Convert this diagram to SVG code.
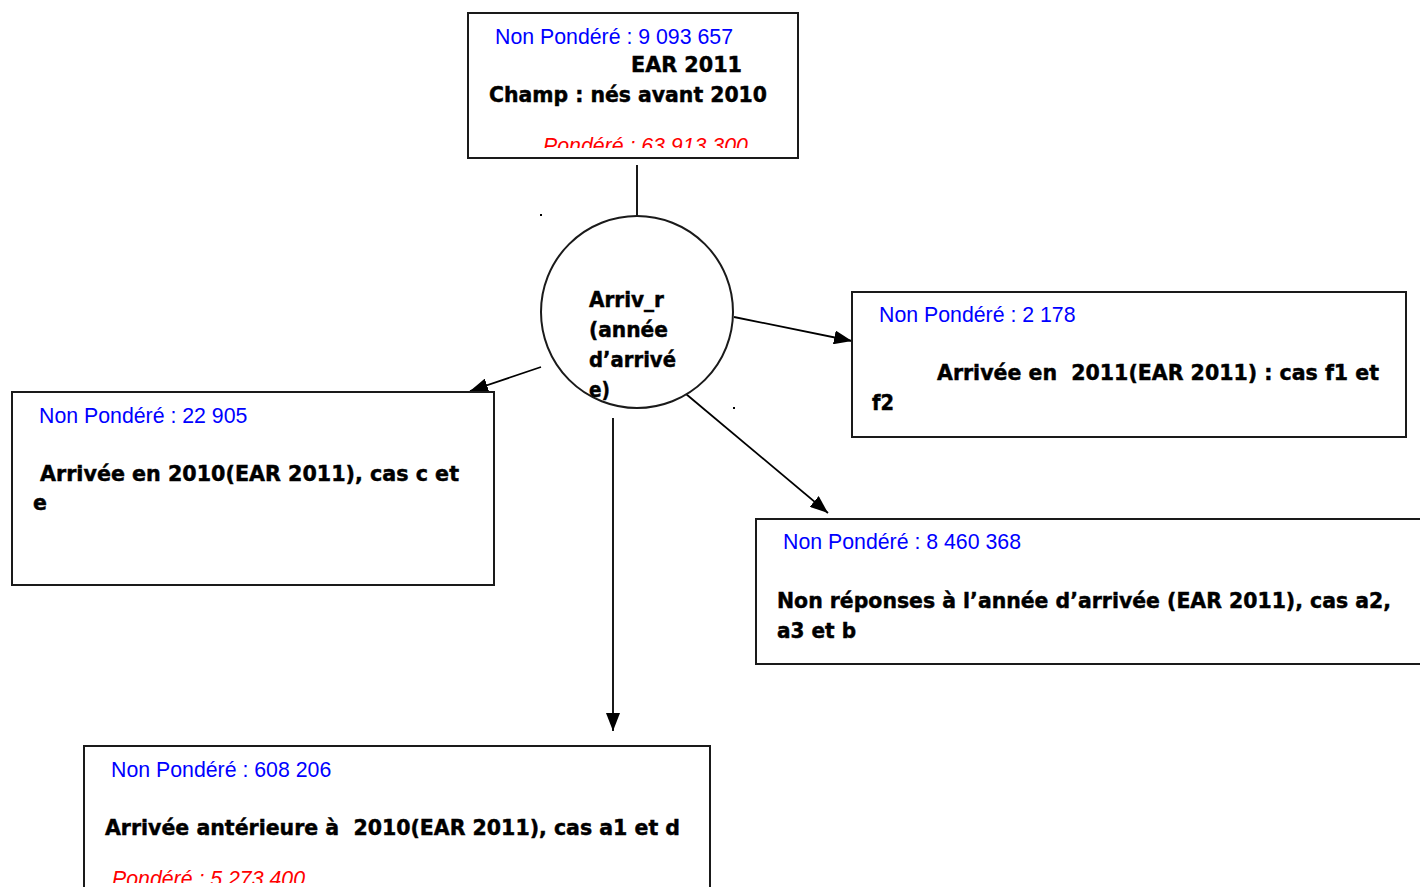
<svg xmlns="http://www.w3.org/2000/svg" width="1420" height="887" viewBox="0 0 1420 887" xml:space="preserve">
  <style>
    .box { fill: #ffffff; stroke: #1a1a1a; stroke-width: 2; }
    .edge { fill: none; stroke: #000000; stroke-width: 1.8; }
    .count { font-family: "Liberation Sans", Arial, sans-serif; font-size: 21.3px; fill: #0000ff; }
    .weighted { font-family: "Liberation Sans", Arial, sans-serif; font-size: 21.3px; font-style: italic; fill: #ff0000; }
    .label { font-family: "DejaVu Sans", "Liberation Sans", sans-serif; font-size: 20.5px; font-weight: bold; fill: #000000; stroke: #000000; stroke-width: 0.45; white-space: pre; }
  </style>
  <defs>
    <marker id="arrow" viewBox="0 0 18 14" refX="18" refY="7" markerWidth="18" markerHeight="14" markerUnits="userSpaceOnUse" orient="auto">
      <path d="M0,0 L18,7 L0,14 Z" fill="#000000"/>
    </marker>
    <clipPath id="clipTop"><rect x="468" y="13" width="330" height="135"/></clipPath>
    <clipPath id="clipBottom"><rect x="84" y="746" width="626" height="137"/></clipPath>
  </defs>

  <rect width="1420" height="887" fill="#ffffff"/>

  <!-- connectors -->
  <g id="connectors">
    <line class="edge" x1="637" y1="165" x2="637" y2="216"/>
    <line class="edge" x1="541" y1="367" x2="470" y2="391" marker-end="url(#arrow)"/>
    <line class="edge" x1="734" y1="317" x2="852" y2="341" marker-end="url(#arrow)"/>
    <line class="edge" x1="686" y1="394" x2="828" y2="513" marker-end="url(#arrow)"/>
    <line class="edge" x1="613" y1="418" x2="613" y2="731" marker-end="url(#arrow)"/>
    <rect x="540" y="214" width="2" height="2" fill="#000000"/>
    <rect x="733" y="407" width="2" height="2" fill="#000000"/>
  </g>

  <!-- root: survey field -->
  <g id="node-root">
    <rect class="box" x="468" y="13" width="330" height="145"/>
    <text class="count" x="495" y="44">Non Pondéré : 9 093 657</text>
    <text class="label" x="631" y="72" textLength="111" lengthAdjust="spacingAndGlyphs">EAR 2011</text>
    <text class="label" x="489" y="102" textLength="278" lengthAdjust="spacingAndGlyphs">Champ : nés avant 2010</text>
    <text class="weighted" x="543" y="153" clip-path="url(#clipTop)">Pondéré : 63 913 300</text>
  </g>

  <!-- split variable -->
  <g id="node-arriv">
    <circle class="box" cx="637" cy="312" r="96"/>
    <text class="label" x="589" y="307" textLength="75" lengthAdjust="spacingAndGlyphs">Arriv_r</text>
    <text class="label" x="589" y="337" textLength="79" lengthAdjust="spacingAndGlyphs">(année</text>
    <text class="label" x="589" y="367" textLength="87" lengthAdjust="spacingAndGlyphs">d’arrivé</text>
    <text class="label" x="589" y="397" textLength="21" lengthAdjust="spacingAndGlyphs">e)</text>
  </g>

  <!-- arrived in 2010 -->
  <g id="node-2010">
    <rect class="box" x="12" y="392" width="482" height="193"/>
    <text class="count" x="39" y="423">Non Pondéré : 22 905</text>
    <text class="label" x="40" y="481" textLength="419" lengthAdjust="spacingAndGlyphs">Arrivée en 2010(EAR 2011), cas c et</text>
    <text class="label" x="33" y="510">e</text>
  </g>

  <!-- arrived in 2011 -->
  <g id="node-2011">
    <rect class="box" x="852" y="292" width="554" height="145"/>
    <text class="count" x="879" y="322">Non Pondéré : 2 178</text>
    <text class="label" x="937" y="380" textLength="442" lengthAdjust="spacingAndGlyphs">Arrivée en  2011(EAR 2011) : cas f1 et</text>
    <text class="label" x="872" y="410" textLength="22" lengthAdjust="spacingAndGlyphs">f2</text>
  </g>

  <!-- missing arrival year -->
  <g id="node-missing">
    <rect class="box" x="756" y="519" width="680" height="145"/>
    <text class="count" x="783" y="549">Non Pondéré : 8 460 368</text>
    <text class="label" x="777" y="608" textLength="614" lengthAdjust="spacingAndGlyphs">Non réponses à l’année d’arrivée (EAR 2011), cas a2,</text>
    <text class="label" x="777" y="638" textLength="79" lengthAdjust="spacingAndGlyphs">a3 et b</text>
  </g>

  <!-- arrived before 2010 -->
  <g id="node-before">
    <rect class="box" x="84" y="746" width="626" height="160"/>
    <text class="count" x="111" y="777">Non Pondéré : 608 206</text>
    <text class="label" x="105" y="835" textLength="575" lengthAdjust="spacingAndGlyphs">Arrivée antérieure à  2010(EAR 2011), cas a1 et d</text>
    <text class="weighted" x="112" y="886" clip-path="url(#clipBottom)">Pondéré : 5 273 400</text>
  </g>
</svg>
